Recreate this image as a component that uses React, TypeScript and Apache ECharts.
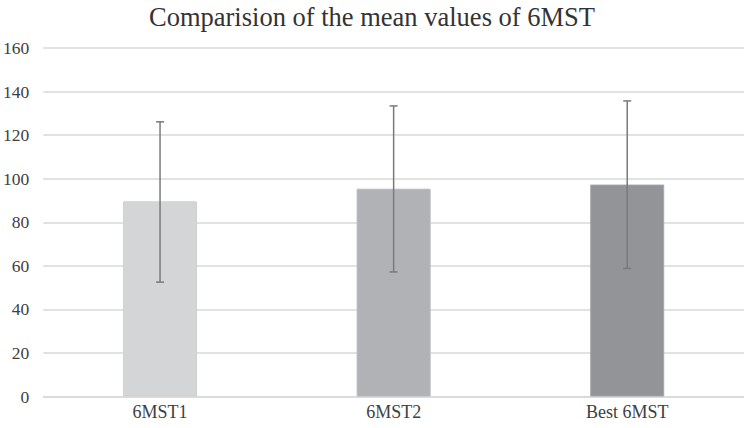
import React, { useEffect, useRef } from "react";
import * as echarts from "echarts";

const categories = ["6MST1", "6MST2", "Best 6MST"];
const means = [89.6, 95.4, 97.3];
const lowerBounds = [52.5, 57.2, 58.8];
const upperBounds = [126.1, 133.4, 135.7];
const barColors = ["#d4d5d7", "#b1b2b5", "#939497"];
const barBorders = ["#cfd0d2", "#b8b9bc", "#a4a5a8"];
const yTicks = { min: 0, max: 160, interval: 20 };

const FONT = "'Liberation Serif', 'Times New Roman', serif";

export default function App() {
  const ref = useRef<HTMLDivElement>(null);
  useEffect(() => {
    document.body.style.margin = "0";
    if (!ref.current) return;
    const chart = echarts.init(ref.current, null, { renderer: "svg" });
    const errData = categories.map((_, i) => [i, lowerBounds[i], upperBounds[i]]);
    chart.setOption({
      animation: false,
      title: {
        text: "Comparision of the mean values of 6MST",
        left: "center",
        top: -2,
        textStyle: { fontFamily: FONT, fontSize: 26.5, fontWeight: "normal", color: "#333333" },
      },
      grid: { left: 41, right: 0, top: 48, bottom: 31.5, containLabel: false },
      xAxis: {
        type: "category",
        data: categories,
        axisTick: { show: false },
        axisLine: { lineStyle: { color: "#d9d9d9", width: 1.5 } },
        axisLabel: { fontFamily: FONT, fontSize: 18, color: "#404040", margin: 6 },
      },
      yAxis: {
        type: "value",
        min: yTicks.min,
        max: yTicks.max,
        interval: yTicks.interval,
        axisLine: { show: false },
        axisTick: { show: false },
        splitLine: { lineStyle: { color: "#d9d9d9", width: 1.5 } },
        axisLabel: { fontFamily: FONT, fontSize: 17.5, color: "#404040", margin: 14 },
      },
      series: [
        {
          type: "bar",
          data: means.map((v, i) => ({
            value: v,
            itemStyle: { color: barColors[i], borderColor: barBorders[i], borderWidth: 1 },
          })),
          barWidth: 74,
        },
        {
          type: "custom",
          data: errData,
          z: 10,
          renderItem: (params: any, api: any) => {
            const x = api.value(0);
            const lo = api.coord([x, api.value(1)]);
            const hi = api.coord([x, api.value(2)]);
            const half = 4;
            const style = { stroke: "#7a7a7a", lineWidth: 1.5 };
            return {
              type: "group",
              children: [
                { type: "line", shape: { x1: hi[0], y1: hi[1], x2: lo[0], y2: lo[1] }, style },
                { type: "line", shape: { x1: hi[0] - half, y1: hi[1], x2: hi[0] + half, y2: hi[1] }, style },
                { type: "line", shape: { x1: lo[0] - half, y1: lo[1], x2: lo[0] + half, y2: lo[1] }, style },
              ],
            };
          },
        },
      ],
    });
    return () => chart.dispose();
  }, []);
  return <div ref={ref} style={{ width: 744, height: 428 }} />;
}
